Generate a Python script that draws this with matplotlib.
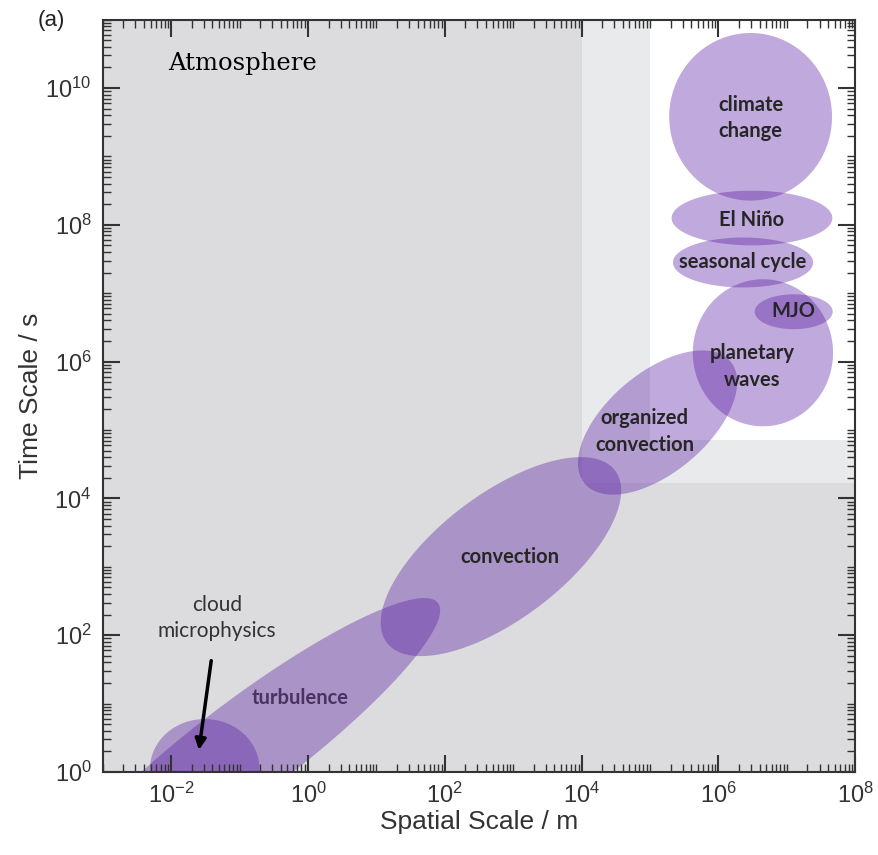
import numpy as np
import matplotlib.pyplot as plt
from matplotlib.ticker import FixedLocator, LogLocator, LogFormatterSciNotation, NullFormatter

plt.rcParams['font.family'] = ['Liberation Sans', 'DejaVu Sans']

# phenomena as ellipses in log10 space: centre x, centre y, full width, full height, tilt (deg)
names = ['turbulence', 'cloud microphysics', 'convection', 'organized convection',
         'planetary waves', 'MJO', 'seasonal cycle', 'El Niño', 'climate change']
cx = [-0.895, -1.51, 2.82, 5.11, 6.65, 7.10, 6.36, 6.49, 6.47]
cy = [0.365, 0.05, 3.15, 5.11, 6.13, 6.73, 7.45, 8.10, 9.58]
ew = [7.0, 1.6, 4.18, 2.78, 2.05, 1.14, 2.05, 2.35, 2.38]
eh = [1.4, 1.45, 1.83, 1.46, 2.15, 0.51, 0.73, 0.80, 2.45]
ang = [37, 0, 37, 40, 0, 0, 0, 0, 0]

# label positions (log10 units)
lab_text = ['climate\nchange', 'El Niño', 'seasonal cycle', 'MJO', 'planetary\nwaves',
            'organized\nconvection', 'convection', 'turbulence']
lab_x = [6.47, 6.49, 6.36, 7.09, 6.49, 4.92, 2.95, -0.12]
lab_y = [9.56, 8.07, 7.46, 6.74, 5.93, 4.98, 3.15, 1.09]

fig = plt.figure(figsize=(8.79, 8.55), dpi=100)
ax = fig.add_axes([0.117, 0.097, 0.856, 0.88])
ax.set_xscale('log')
ax.set_yscale('log')
ax.set_facecolor('#dcdcde')

# lighter regions top right
ax.fill_between([1e4, 1e8], 10**4.23, 1e11, color='#e9eaec', lw=0, zorder=0.5)
ax.fill_between([1e5, 1e8], 10**4.85, 1e11, color='white', lw=0, zorder=0.6)

t = np.linspace(0, 2 * np.pi, 300)
for i in range(len(names)):
    a = ew[i] / 2
    b = eh[i] / 2
    th = np.radians(ang[i])
    x = cx[i] + a * np.cos(t) * np.cos(th) - b * np.sin(t) * np.sin(th)
    y = cy[i] + a * np.cos(t) * np.sin(th) + b * np.sin(t) * np.cos(th)
    ax.fill(10**x, 10**y, color='#5a1fa3', alpha=0.38, lw=0, zorder=1)

for i in range(len(lab_text)):
    col = '#4a3360' if lab_text[i] == 'turbulence' else '#262626'
    ax.text(10**lab_x[i], 10**lab_y[i], lab_text[i], ha='center', va='center',
            fontsize=14.5, color=col, family=['Lato', 'DejaVu Sans'], fontweight='bold',
            linespacing=1.4, zorder=3)

ax.annotate('cloud\nmicrophysics', xy=(0.0254, 2.1), xytext=(10**-1.33, 10**2.25),
            ha='center', va='center', fontsize=15, color='#333333',
            family=['Lato', 'DejaVu Sans'], linespacing=1.4, zorder=3,
            arrowprops=dict(arrowstyle='-|>', color='black', lw=2.5,
                            mutation_scale=16, shrinkA=12, shrinkB=0))

ax.text(10**-2.05, 10**10.36, 'Atmosphere', ha='left', va='center', fontsize=17.5,
        family=['DejaVu Serif'], color='black', zorder=3)

ax.set_xlim(1e-3, 1e8)
ax.set_ylim(1e0, 1e11)

ax.xaxis.set_major_locator(FixedLocator(10.0**np.arange(-2, 9, 2)))
ax.yaxis.set_major_locator(FixedLocator(10.0**np.arange(0, 11, 2)))
for axis in [ax.xaxis, ax.yaxis]:
    axis.set_major_formatter(LogFormatterSciNotation(base=10))
    axis.set_minor_locator(LogLocator(base=10, subs=np.arange(1, 10), numticks=100))
    axis.set_minor_formatter(NullFormatter())

ax.tick_params(which='both', direction='in', top=True, right=True, colors='#333333',
               labelcolor='#333333')
ax.tick_params(which='major', length=12, width=1.5, labelsize=17, pad=8)
ax.tick_params(which='minor', length=6, width=1.0)
for s in ax.spines.values():
    s.set_color('#333333')
    s.set_linewidth(1.5)

ax.set_xlabel('Spatial Scale / m', fontsize=19, color='#333333', labelpad=1)
ax.set_ylabel('Time Scale / s', fontsize=19, color='#333333', labelpad=2)

fig.text(0.043, 0.976, '(a)', fontsize=16, color='#222222', ha='left', va='center')

fig.savefig('out.png', dpi=100)
